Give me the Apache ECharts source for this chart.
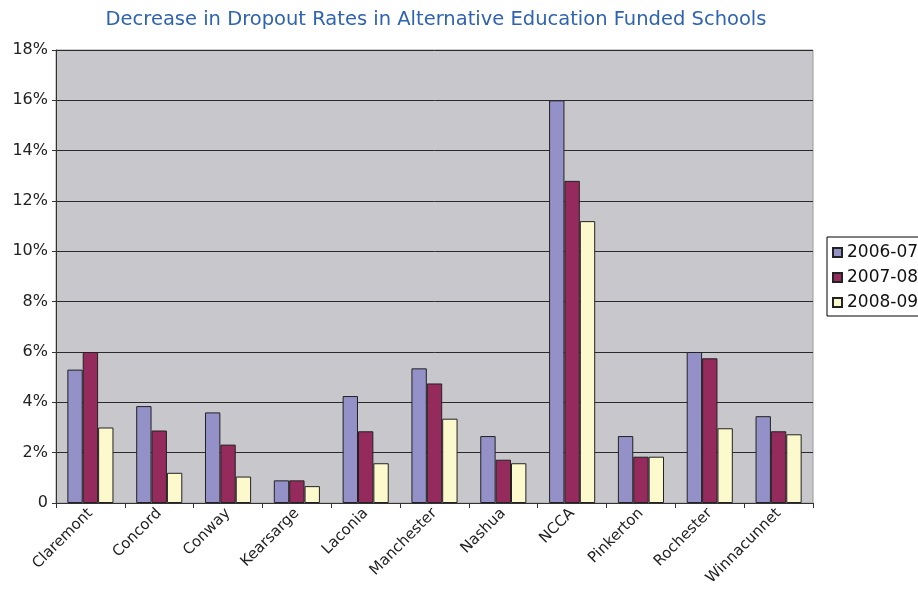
<!DOCTYPE html>
<html><head><meta charset="utf-8">
<script src="https://cdn.jsdelivr.net/npm/echarts@6/dist/echarts.min.js"></script>
<style>html,body{margin:0;padding:0;background:#fff}#c{width:918px;height:589px}</style>
</head><body><div id="c"></div>
<script>
const categories = ['Claremont','Concord','Conway','Kearsarge','Laconia','Manchester','Nashua','NCCA','Pinkerton','Rochester','Winnacunnet'];
const seriesNames = ['2006-07','2007-08','2008-09'];
const values0607 = [5.3, 3.85, 3.6, 0.9, 4.25, 5.35, 2.66, 16.0, 2.66, 6.0, 3.45];
const values0708 = [6.0, 2.88, 2.32, 0.9, 2.85, 4.75, 1.72, 12.8, 1.84, 5.75, 2.85];
const values0809 = [3.0, 1.2, 1.05, 0.67, 1.58, 3.35, 1.58, 11.2, 1.84, 2.97, 2.73];
const colors = ['#9490c8','#952a5c','#fcf9cc'];
const font = 'DejaVu Sans';
const chart = echarts.init(document.getElementById('c'));
chart.setOption({
  animation:false,
  title:{text:'Decrease in Dropout Rates in Alternative Education Funded Schools',left:431,textAlign:'center',top:5,
    textStyle:{fontFamily:font,fontWeight:'normal',fontSize:19.5,color:'#2f63b2'}},
  legend:{orient:'vertical',left:827,top:237,itemWidth:9,itemHeight:9,itemGap:8,padding:[7,6,5,5],
    borderColor:'#000',borderWidth:1,backgroundColor:'#fff',icon:'rect',
    textStyle:{fontFamily:font,fontSize:17,color:'#111'},
    data:seriesNames},
  grid:{left:56,right:105,top:50,bottom:86,show:true,backgroundColor:'#c8c8cc',borderColor:'#9a9a9a',borderWidth:1},
  xAxis:{type:'category',data:categories,
    axisLine:{lineStyle:{color:'#333',width:1}},
    axisTick:{show:true,length:5,lineStyle:{color:'#333'}},
    axisLabel:{rotate:45,fontFamily:font,fontSize:15,color:'#222',margin:8}},
  yAxis:{type:'value',min:0,max:18,interval:2,
    axisLine:{show:true,lineStyle:{color:'#333',width:1}},
    axisTick:{show:true,length:4,lineStyle:{color:'#333'}},
    splitLine:{lineStyle:{color:'#2a2a2a',width:1}},
    axisLabel:{fontFamily:font,fontSize:16,color:'#222',margin:8,formatter:v=>v===0?'0':v+'%'}},
  series:[values0607,values0708,values0809].map((d,i)=>({
    type:'bar',name:seriesNames[i],data:d,barGap:'0%',barCategoryGap:'33%',
    itemStyle:{color:colors[i],borderColor:'#222',borderWidth:1}
  }))
});
</script></body></html>
